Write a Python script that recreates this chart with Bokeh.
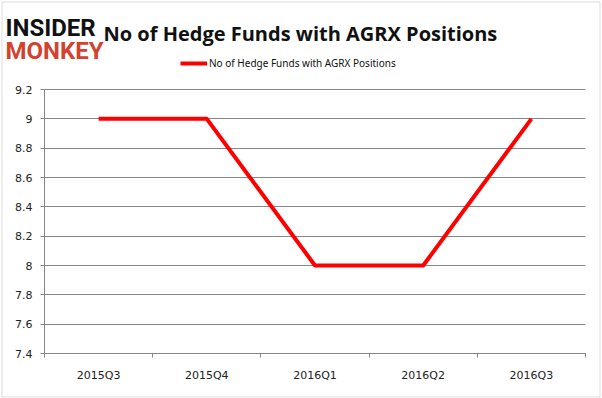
from bokeh.plotting import figure
from bokeh.models import (FixedTicker, PrintfTickFormatter, Legend, LegendItem,
                          Label, Range1d, ColumnDataSource, Grid, BoxAnnotation)
from bokeh.embed import file_html
from bokeh.resources import INLINE

# ---- data ----
quarters = ["2015Q3", "2015Q4", "2016Q1", "2016Q2", "2016Q3"]
hedge_fund_counts = [9, 9, 8, 8, 9]
y_ticks = [7.4, 7.6, 7.8, 8.0, 8.2, 8.4, 8.6, 8.8, 9.0, 9.2]
series_name = "No of Hedge Funds with AGRX Positions"
chart_title = "No of Hedge Funds with AGRX Positions"

n = len(quarters)
x_pos = [i + 0.5 for i in range(n)]
src = ColumnDataSource(dict(x=x_pos, y=hedge_fund_counts))

GRID = "#868686"
AXIS_FONT = "DejaVu Sans"
W, H = 602, 398
# plot-area box in canvas pixels
PL, PR, PT, PB = 44, 585, 89, 353

ymin, ymax = y_ticks[0], y_ticks[-1]
xs = n / (PR - PL)
ys = (ymax - ymin) / (PB - PT)
x_range = Range1d(0 - PL * xs, n + (W - PR) * xs)
y_range = Range1d(ymin - (H - PB) * ys, ymax + PT * ys)

p = figure(width=W, height=H, output_backend="svg", toolbar_location=None,
           x_range=x_range, y_range=y_range, min_border=0,
           min_border_left=0, min_border_right=0, min_border_top=0, min_border_bottom=0)
p.outline_line_color = None

# outer chart border
p.add_layout(BoxAnnotation(left=1.5, right=W - 2.5, bottom=1.5, top=H - 1.5,
                           left_units="screen", right_units="screen",
                           top_units="screen", bottom_units="screen",
                           fill_alpha=0, line_color="#8c8c8c", line_width=1))

# y axis (fixed at the left edge of the plot area)
p.yaxis.fixed_location = 0
p.yaxis.bounds = (ymin, ymax)
p.yaxis.ticker = FixedTicker(ticks=y_ticks, minor_ticks=[])
p.yaxis.formatter = PrintfTickFormatter(format="%g")
p.yaxis.axis_line_color = GRID
p.yaxis.major_tick_line_color = GRID
p.yaxis.major_tick_out = 4
p.yaxis.major_tick_in = 0
p.yaxis.minor_tick_line_color = None
p.yaxis.major_label_standoff = 8
p.yaxis.major_label_text_font = AXIS_FONT
p.yaxis.major_label_text_font_size = "11px"
p.yaxis.major_label_text_color = "#222222"

# x axis: labels at category centres, tick marks at category boundaries
p.xaxis.fixed_location = ymin
p.xaxis.bounds = (0, n)
p.xaxis.ticker = FixedTicker(ticks=x_pos, minor_ticks=list(range(n + 1)))
p.xaxis.major_label_overrides = {x: q for x, q in zip(x_pos, quarters)}
p.xaxis.axis_line_color = GRID
p.xaxis.major_tick_line_color = None
p.xaxis.major_tick_out = 0
p.xaxis.major_tick_in = 0
p.xaxis.minor_tick_line_color = GRID
p.xaxis.minor_tick_out = 4
p.xaxis.minor_tick_in = 0
p.xaxis.major_label_standoff = 11
p.xaxis.major_label_text_font = AXIS_FONT
p.xaxis.major_label_text_font_size = "11px"
p.xaxis.major_label_text_color = "#222222"

p.xgrid.grid_line_color = None
if "cross_bounds" in Grid.properties():
    p.ygrid.cross_bounds = (0, n)
    p.ygrid.grid_line_color = GRID
else:
    p.ygrid.grid_line_color = None
    p.segment(x0=0, x1=n, y0=y_ticks, y1=y_ticks, line_color=GRID, line_width=1)

r = p.line("x", "y", source=src, line_color="#ff0000", line_width=4,
           line_join="round", line_cap="butt")

legend = Legend(items=[LegendItem(label=series_name, renderers=[r])],
                location=(180, H - 70), border_line_color=None,
                background_fill_alpha=0, padding=0, margin=0, spacing=0,
                glyph_width=27, glyph_height=14, label_height=14,
                label_standoff=2, label_text_font="Noto Sans",
                label_text_font_size="10px", label_text_color="#111111")
p.add_layout(legend, "center")

# title
p.add_layout(Label(x=103, y=H - 33, x_units="screen", y_units="screen", text=chart_title,
                   text_font="Open Sans", text_font_size="20px",
                   text_font_style="bold", text_color="#111111",
                   text_baseline="alphabetic"))
# logo (drawn over the start of the title, as in the original)
p.add_layout(Label(x=5, y=H - 27, x_units="screen", y_units="screen", text="INSIDER",
                   text_font="Roboto", text_font_size="24px", text_font_style="bold",
                   text_color="#111111", text_baseline="alphabetic"))
p.add_layout(Label(x=5, y=H - 50, x_units="screen", y_units="screen", text="MONKEY",
                   text_font="Roboto", text_font_size="24px", text_font_style="bold",
                   text_color="#d1432e", text_baseline="alphabetic"))

open("out.html", "w").write(file_html(p, INLINE))
